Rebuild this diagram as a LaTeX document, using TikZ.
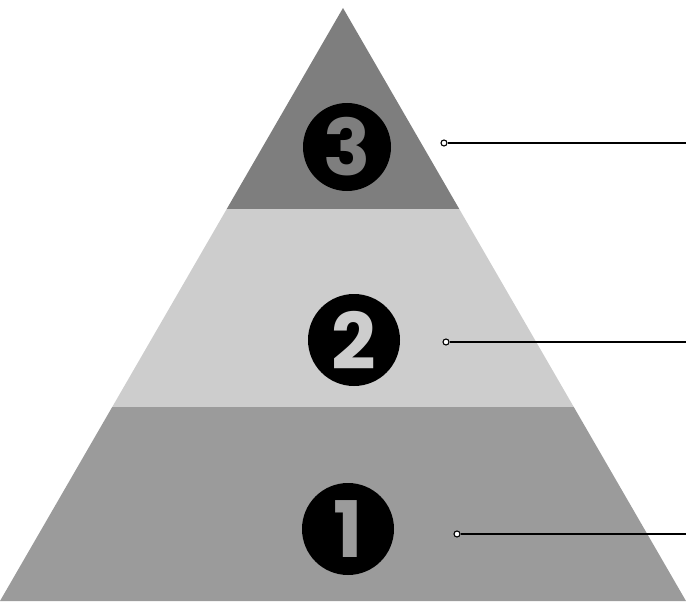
\documentclass[tikz,border=0pt]{standalone}
\usepackage{fontspec}
\usetikzlibrary{calc}
\newfontfamily\numfont{Poppins}
\definecolor{bandtop}{HTML}{7E7E7E}
\definecolor{bandmid}{HTML}{CDCDCD}
\definecolor{bandlow}{HTML}{9B9B9B}
\tikzset{
  numdisc/.style={circle, fill=black, minimum size=92pt, inner sep=0pt,
                  font=\numfont\bfseries\fontsize{78}{78}\selectfont},
  leaddot/.style={circle, draw=black, fill=white, line width=1.1pt,
                  minimum size=6pt, inner sep=0pt},
  leader/.style={line width=1.1pt, black},
}

\begin{document}
\begin{tikzpicture}[x=1pt, y=-1pt]
    \useasboundingbox (0,0) rectangle (686,602);
    \coordinate (apex) at (343, 8);
    \coordinate (bl) at (0, 601);
    \coordinate (br) at (686, 601);
    \coordinate (l3) at ($(apex)!0.339!(bl)$);
    \coordinate (r3) at ($(apex)!0.339!(br)$);
    \coordinate (l2) at ($(apex)!0.673!(bl)$);
    \coordinate (r2) at ($(apex)!0.673!(br)$);
    % bands
    \fill[bandtop] (apex) -- (r3) -- (l3) -- cycle;
    \fill[bandmid] (l3) -- (r3) -- (r2) -- (l2) -- cycle;
    \fill[bandlow] (l2) -- (r2) -- (br) -- (bl) -- cycle;
    % numbers
    \node[numdisc, minimum size=88pt, text=bandtop] (n3) at (347, 147) {3};
    \node[numdisc, text=bandmid] (n2) at (354, 340) {2};
    \node[numdisc, text=bandlow] (n1) at (348, 529) {1};
    % leaders
    \node[leaddot] (d3) at (444, 143) {};
    \node[leaddot] (d2) at (446, 342) {};
    \node[leaddot] (d1) at (457, 534) {};
    \coordinate (e3) at (686, 143);
    \coordinate (e2) at (686, 342);
    \coordinate (e1) at (686, 534);
    \draw[leader] (d3) -- (e3);
    \draw[leader] (d2) -- (e2);
    \draw[leader] (d1) -- (e1);
  \end{tikzpicture}
\end{document}
